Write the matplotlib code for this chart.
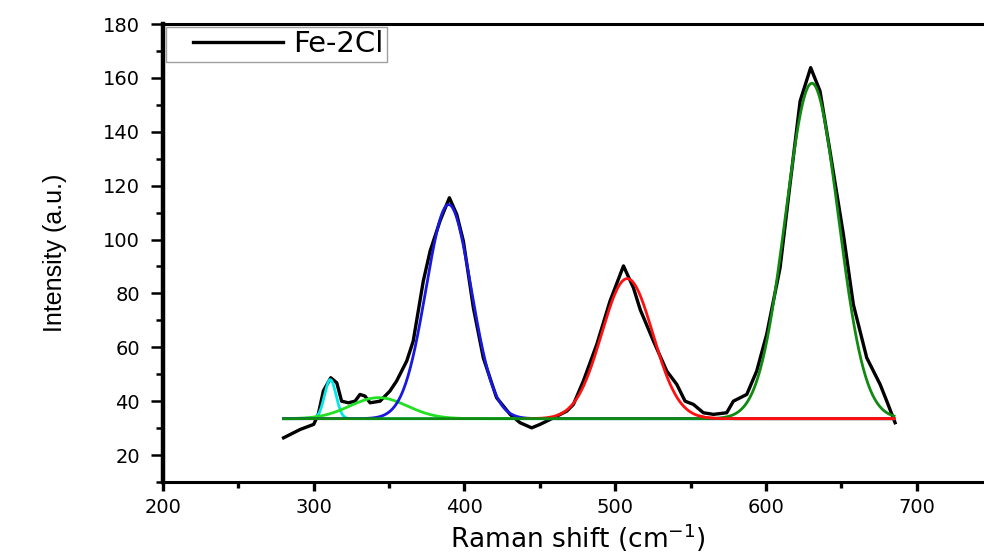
import matplotlib.pyplot as plt
import numpy as np
from matplotlib.ticker import MultipleLocator
from matplotlib.lines import Line2D
from matplotlib.legend_handler import HandlerLine2D

plt.rcParams['font.family'] = ['DejaVu Sans']

shift = [280, 291, 300, 303, 306.4, 311.3, 315.3, 318.5, 323, 327.4, 330.7, 334,
         337.4, 344, 350.6, 355, 361.7, 366, 372.7, 377.2, 383.8, 390, 394.9,
         399.3, 405.9, 412.5, 421.3, 430.3, 436.9, 444.6, 450.2, 459, 467.9,
         472.3, 478.9, 487.8, 496.6, 505.5, 512.1, 516.6, 525.4, 534.2, 540.9,
         546.4, 551.9, 558.5, 565.2, 574, 578.4, 587.3, 593.9, 600.5, 609.4,
         616, 622.7, 629.7, 635.9, 642.5, 651.4, 658, 666.9, 675.8, 680.2, 685.7]
intensity = [26.4, 29.5, 31.4, 35.1, 43.8, 48.7, 46.8, 40, 39.4, 40, 42.5, 41.9,
             39.4, 40, 43.8, 47.5, 54.9, 62.3, 84.6, 95.7, 106.9, 115.5, 109.3,
             99.4, 74.7, 56.1, 41.3, 35.1, 32, 30.1, 31.4, 33.8, 36.3,
             38.8, 47.5, 61.1, 77.2, 90.2, 82.1, 74, 62.3, 51.2, 46.2,
             40, 38.8, 35.7, 35.1, 35.7, 40, 42.5, 51.2, 64.8, 89.5,
             120.5, 151.4, 163.8, 155.1, 132.8, 101.9, 75.9, 56.1, 46.2, 40, 32]

# fitted gaussian components
baseline = 33.5
centers = [311, 343, 389.5, 508, 630.5]
heights = [14.5, 7.8, 79.5, 52, 124.5]
widths = [3.8, 19, 15, 17, 17.5]
colors = ['#00e8e8', '#22e022', '#1818e0', '#ff1010', '#108a10']

fig = plt.figure(figsize=(9.84, 5.59), dpi=100)
ax = fig.add_axes([163 / 984, 77 / 559, 829 / 984, 458 / 559])

ax.plot(shift, intensity, color='black', lw=2.4, zorder=2, label='Fe-2Cl')

xs = np.linspace(280, 685, 800)
for c, h, w, col in zip(centers[:3], heights[:3], widths[:3], colors[:3]):
    ax.plot(xs, baseline + h * np.exp(-(xs - c) ** 2 / (2 * w ** 2)), color=col, lw=2, zorder=3)

# red peak: tail under the green baseline on the left, on top on the right
red = baseline + heights[3] * np.exp(-(xs - centers[3]) ** 2 / (2 * widths[3] ** 2))
ax.plot(xs[xs >= 440], red[xs >= 440], color=colors[3], lw=2, zorder=3)
green = baseline + heights[4] * np.exp(-(xs - centers[4]) ** 2 / (2 * widths[4] ** 2))
ax.plot(xs, green, color=colors[4], lw=2, zorder=4)
ax.plot(xs[xs >= 556], red[xs >= 556], color=colors[3], lw=2, zorder=5)

ax.set_xlim(200, 750)
ax.set_ylim(10, 180)
ax.xaxis.set_major_locator(MultipleLocator(100))
ax.xaxis.set_minor_locator(MultipleLocator(50))
ax.yaxis.set_major_locator(MultipleLocator(20))
ax.yaxis.set_minor_locator(MultipleLocator(10))
ax.set_yticks(range(20, 181, 20))
ax.tick_params(axis='x', which='major', direction='out', length=6.5, width=2.4, labelsize=14, pad=5)
ax.tick_params(axis='x', which='minor', direction='out', length=4, width=2.4)
ax.tick_params(axis='y', which='major', direction='out', length=8.5, width=1.8, labelsize=14, pad=8)
ax.tick_params(axis='y', which='minor', direction='out', length=5, width=1.8)
ax.spines['left'].set_linewidth(3.2)
ax.spines['bottom'].set_linewidth(2.2)
ax.spines['top'].set_linewidth(2.2)
ax.spines['right'].set_linewidth(3.2)

ax.set_xlabel('Raman shift (cm$^{-1}$)', fontsize=19, labelpad=3)
ax.set_ylabel('Intensity (a.u.)', fontsize=18, family=['Liberation Sans', 'DejaVu Sans'],
              labelpad=26)

leg = ax.legend(loc='upper left', fontsize=21, frameon=True, fancybox=False,
                borderaxespad=0.1, borderpad=0.12, handlelength=3.9, handletextpad=0.35,
                handler_map={Line2D: HandlerLine2D(xpad=0.8)})
leg.get_frame().set_edgecolor('#888888')
leg.get_frame().set_linewidth(1)

fig.savefig('out.png', dpi=100)
